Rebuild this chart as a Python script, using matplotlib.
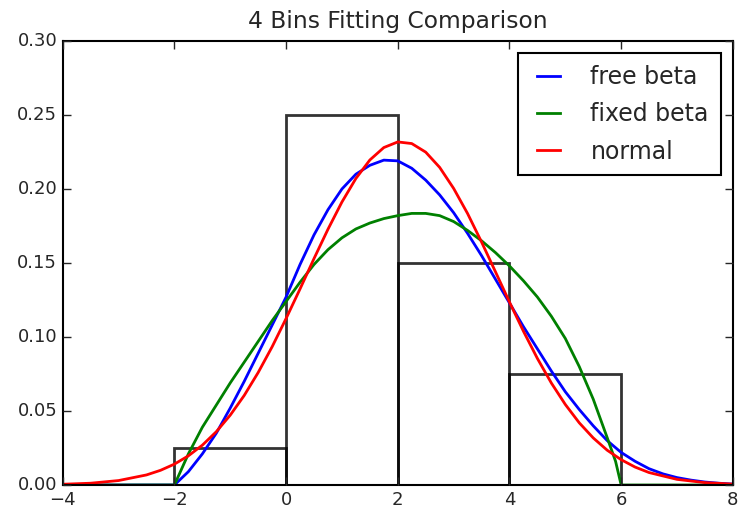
import matplotlib
matplotlib.use('Agg')
import matplotlib.pyplot as plt
import numpy as np

# histogram (density) of the 4 bins
bin_edges = [-2, 0, 2, 4, 6]
bin_heights = [0.025, 0.25, 0.15, 0.075]

# curve samples
x_free = [-4, -3, -2, -1.75, -1.5, -1.25, -1, -0.75, -0.5, -0.25, 0, 0.25, 0.5,
          0.75, 1, 1.25, 1.5, 1.75, 2, 2.25, 2.5, 2.75, 3, 3.25, 3.5, 3.75, 4,
          4.25, 4.5, 4.75, 5, 5.25, 5.5, 5.75, 6, 6.25, 6.5, 6.75, 7, 7.25, 7.5,
          7.75, 8]
y_free = [0, 0, 0, 0.009, 0.021, 0.035, 0.052, 0.070, 0.089, 0.108, 0.127,
          0.149, 0.169, 0.186, 0.200, 0.210, 0.216, 0.2195, 0.219, 0.214, 0.206,
          0.196, 0.184, 0.170, 0.155, 0.139, 0.123, 0.107, 0.092, 0.077, 0.063,
          0.051, 0.040, 0.030, 0.022, 0.016, 0.011, 0.0075, 0.005, 0.0033, 0.002,
          0.0012, 0.0006]

x_fixed = [-4, -3, -2, -1.75, -1.5, -1.25, -1, -0.75, -0.5, -0.25, 0, 0.25, 0.5,
           0.75, 1, 1.25, 1.5, 1.75, 2, 2.25, 2.5, 2.75, 3, 3.25, 3.5, 3.75, 4,
           4.25, 4.5, 4.75, 5, 5.25, 5.5, 5.75, 5.9, 6, 7, 8]
y_fixed = [0, 0, 0, 0.021, 0.039, 0.054, 0.069, 0.083, 0.097, 0.111, 0.124,
           0.137, 0.149, 0.159, 0.167, 0.173, 0.177, 0.180, 0.182, 0.1835, 0.1835,
           0.182, 0.178, 0.172, 0.165, 0.157, 0.148, 0.138, 0.127, 0.114, 0.099,
           0.080, 0.058, 0.032, 0.016, 0, 0, 0]

x_norm = [-4, -3.5, -3, -2.5, -2.25, -2, -1.75, -1.5, -1.25, -1, -0.75, -0.5,
          -0.25, 0, 0.25, 0.5, 0.75, 1, 1.25, 1.5, 1.75, 2, 2.25, 2.5, 2.75, 3,
          3.25, 3.5, 3.75, 4, 4.25, 4.5, 4.75, 5, 5.25, 5.5, 5.75, 6, 6.25, 6.5,
          7, 7.5, 8]
y_norm = [0.0005, 0.0012, 0.0030, 0.0068, 0.0099, 0.0141, 0.0197, 0.0269,
          0.0360, 0.0472, 0.0605, 0.0760, 0.0934, 0.1125, 0.1325, 0.1530, 0.1728,
          0.1912, 0.2071, 0.2196, 0.2280, 0.2318, 0.2307, 0.2249, 0.2146, 0.2004,
          0.1834, 0.1642, 0.1440, 0.1236, 0.1039, 0.0855, 0.0689, 0.0544, 0.0420,
          0.0318, 0.0235, 0.0171, 0.0121, 0.0084, 0.0038, 0.0016, 0.0006]

plt.style.use('classic')
plt.rcParams['font.family'] = ['DejaVu Sans']
plt.rcParams['axes.linewidth'] = 1.5
plt.rcParams['text.color'] = '#262626'
plt.rcParams['xtick.color'] = '#262626'
plt.rcParams['ytick.color'] = '#262626'

fig = plt.figure(figsize=(7.38, 5.13), dpi=100, facecolor='white')
ax = fig.add_axes([0.085, 0.0546, 0.908, 0.8655])

ax.bar(bin_edges[:-1], bin_heights, width=np.diff(bin_edges), align='edge',
       fill=False, edgecolor='k', linewidth=2, alpha=0.8)

ax.plot(x_free, y_free, color='b', linewidth=2, label='free beta')
ax.plot(x_fixed, y_fixed, color='g', linewidth=2, label='fixed beta')
ax.plot(x_norm, y_norm, color='r', linewidth=2, label='normal')

ax.set_xlim(-4, 8)
ax.set_ylim(0, 0.3)
ax.set_xticks(range(-4, 9, 2))
ax.set_yticks(np.arange(0, 0.31, 0.05))
ax.yaxis.set_major_formatter(matplotlib.ticker.FormatStrFormatter('%.2f'))
ax.tick_params(labelsize=13, length=5.5, width=1)
ax.set_title('4 Bins Fitting Comparison', fontsize=16.8, pad=9)
leg = ax.legend(loc='upper right', fontsize=17, handlelength=1.57,
                handletextpad=1.0, labelspacing=0.56, borderpad=0.5,
                borderaxespad=0.52)
leg.get_frame().set_linewidth(1.5)

fig.savefig('out.png', dpi=100, facecolor='white')
